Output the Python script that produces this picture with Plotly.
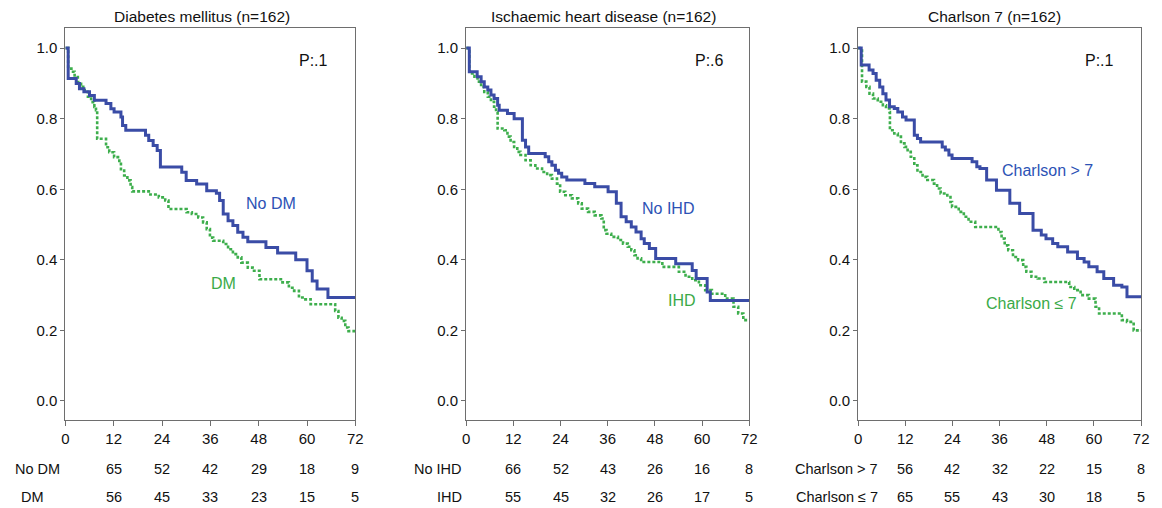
import plotly.graph_objects as go

# ---------------- data ----------------
months_ticks = [0, 12, 24, 36, 48, 60, 72]

# Panel 1: Diabetes mellitus
dm_no_t = [0, 0.7, 2.7, 3.5, 4.6, 6.0, 7.2, 10.1, 11.3, 12.1, 13.8, 14.2, 15.0, 19.9, 20.7, 21.8, 22.8, 23.6,
           28.9, 30.0, 32.6, 35.1, 37.5, 38.3, 39.2, 40.4, 41.6, 42.8, 44.1, 45.3, 49.8, 52.7, 57.2, 60.0,
           61.3, 62.5, 65.2, 72]
dm_no_s = [1.0, 0.914, 0.900, 0.885, 0.876, 0.866, 0.852, 0.843, 0.828, 0.819, 0.805, 0.781, 0.767, 0.753,
           0.738, 0.724, 0.710, 0.663, 0.648, 0.625, 0.615, 0.596, 0.589, 0.568, 0.530, 0.511, 0.497, 0.478,
           0.464, 0.451, 0.435, 0.419, 0.400, 0.369, 0.340, 0.317, 0.293, 0.293]
dm_yes_t = [0, 0.7, 1.5, 2.3, 3.1, 3.9, 4.8, 5.6, 6.4, 7.2, 7.6, 7.9, 10.1, 10.9, 12.1, 13.4, 13.8, 14.6,
            15.4, 16.2, 16.6, 21.1, 23.2, 24.8, 25.6, 30.1, 31.4, 33.0, 34.2, 35.1, 35.9, 36.7, 39.2, 40.4,
            41.6, 42.8, 43.7, 45.3, 46.5, 48.2, 53.9, 55.5, 56.8, 58.0, 59.6, 60.9, 67.0, 67.8, 68.6, 69.5,
            70.3, 72]
dm_yes_s = [1.0, 0.942, 0.933, 0.918, 0.904, 0.890, 0.876, 0.862, 0.847, 0.833, 0.824, 0.743, 0.719, 0.705,
            0.691, 0.672, 0.653, 0.639, 0.625, 0.606, 0.594, 0.585, 0.577, 0.568, 0.544, 0.535, 0.530, 0.520,
            0.506, 0.487, 0.463, 0.454, 0.445, 0.430, 0.416, 0.407, 0.392, 0.378, 0.369, 0.345, 0.336, 0.321,
            0.312, 0.293, 0.288, 0.274, 0.255, 0.236, 0.227, 0.208, 0.198, 0.198]

# Panel 2: Ischaemic heart disease
ihd_no_t = [0, 0.8, 2.8, 3.8, 4.6, 5.5, 6.3, 7.1, 8.0, 8.4, 10.5, 12.2, 14.3, 15.1, 15.9, 20.1, 21.0, 21.8,
            22.7, 23.5, 24.3, 25.6, 30.2, 32.7, 36.1, 38.2, 39.4, 40.7, 42.0, 43.2, 44.5, 45.3, 46.6, 48.2,
            53.3, 57.5, 58.5, 61.3, 62.1, 72]
ihd_no_s = [1.0, 0.933, 0.919, 0.905, 0.890, 0.881, 0.867, 0.857, 0.838, 0.824, 0.815, 0.800, 0.739, 0.720,
            0.701, 0.692, 0.678, 0.668, 0.654, 0.645, 0.635, 0.626, 0.616, 0.607, 0.593, 0.560, 0.522, 0.508,
            0.493, 0.479, 0.460, 0.446, 0.432, 0.404, 0.389, 0.370, 0.347, 0.309, 0.285, 0.285]
ihd_yes_t = [0, 0.8, 2.1, 2.9, 3.8, 4.6, 5.5, 6.3, 7.1, 7.6, 8.0, 9.7, 10.5, 11.3, 12.2, 13.0, 13.8, 15.1,
             16.4, 17.6, 19.3, 20.6, 21.8, 23.1, 23.9, 25.2, 26.9, 28.5, 29.4, 31.0, 32.7, 34.4, 35.0, 35.7,
             36.9, 38.6, 39.9, 41.1, 42.0, 42.8, 43.6, 44.5, 49.9, 54.1, 55.8, 57.5, 59.2, 60.8, 62.5, 65.9,
             68.0, 69.2, 70.5, 72]
ihd_yes_s = [1.0, 0.928, 0.919, 0.905, 0.890, 0.876, 0.862, 0.848, 0.834, 0.819, 0.772, 0.767, 0.749, 0.734,
             0.720, 0.706, 0.697, 0.682, 0.668, 0.659, 0.649, 0.640, 0.630, 0.616, 0.593, 0.583, 0.574, 0.560,
             0.545, 0.536, 0.526, 0.517, 0.484, 0.474, 0.465, 0.456, 0.446, 0.437, 0.427, 0.413, 0.404, 0.394,
             0.380, 0.366, 0.352, 0.342, 0.328, 0.314, 0.304, 0.290, 0.267, 0.248, 0.229, 0.229]

# Panel 3: Charlson 7
ch_hi_t = [0, 0.8, 2.8, 3.8, 4.6, 5.5, 6.3, 7.1, 8.0, 9.2, 10.1, 11.3, 12.2, 14.3, 15.1, 15.9, 21.4, 22.2,
           23.1, 23.9, 29.0, 30.2, 31.0, 32.7, 35.2, 38.6, 41.1, 44.5, 46.6, 47.8, 49.5, 50.8, 53.3, 55.8,
           57.5, 58.7, 60.8, 62.5, 65.0, 67.1, 68.4, 72]
ch_hi_s = [1.0, 0.952, 0.938, 0.928, 0.909, 0.890, 0.871, 0.853, 0.834, 0.829, 0.819, 0.805, 0.796, 0.753,
           0.744, 0.734, 0.720, 0.711, 0.697, 0.687, 0.678, 0.664, 0.659, 0.626, 0.597, 0.560, 0.531, 0.484,
           0.470, 0.460, 0.446, 0.437, 0.422, 0.404, 0.394, 0.380, 0.366, 0.347, 0.328, 0.323, 0.295, 0.295]
ch_lo_t = [0, 1.0, 2.1, 2.9, 3.8, 5.0, 6.3, 7.1, 8.0, 8.1, 9.2, 10.1, 10.9, 11.8, 12.6, 13.4, 14.3, 15.1,
           16.4, 17.6, 19.3, 20.1, 21.0, 22.7, 23.5, 23.9, 25.6, 26.9, 28.1, 29.8, 35.7, 36.5, 37.3, 38.2,
           39.4, 40.7, 42.0, 42.8, 44.1, 45.7, 47.4, 53.7, 55.0, 56.6, 58.7, 60.4, 61.3, 67.1, 68.4, 70.1, 72]
ch_lo_s = [1.0, 0.905, 0.890, 0.871, 0.857, 0.848, 0.838, 0.829, 0.819, 0.767, 0.758, 0.749, 0.730, 0.720,
           0.706, 0.692, 0.668, 0.649, 0.635, 0.626, 0.616, 0.602, 0.588, 0.578, 0.564, 0.550, 0.536, 0.522,
           0.508, 0.493, 0.479, 0.460, 0.441, 0.427, 0.408, 0.399, 0.380, 0.366, 0.352, 0.347, 0.337, 0.323,
           0.314, 0.300, 0.290, 0.267, 0.248, 0.229, 0.224, 0.200, 0.200]

titles = ["Diabetes mellitus (n=162)", "Ischaemic heart disease (n=162)", "Charlson 7 (n=162)"]
p_values = ["P:.1", "P:.6", "P:.1"]
row_labels = [["No DM", "DM"], ["No IHD", "IHD"], ["Charlson > 7", "Charlson \u2264 7"]]
risk_top = [[65, 52, 42, 29, 18, 9], [66, 52, 43, 26, 16, 8], [56, 42, 32, 22, 15, 8]]
risk_bot = [[56, 45, 33, 23, 15, 5], [55, 45, 32, 26, 17, 5], [65, 55, 43, 30, 18, 5]]

curves = [
    (dm_no_t, dm_no_s, dm_yes_t, dm_yes_s),
    (ihd_no_t, ihd_no_s, ihd_yes_t, ihd_yes_s),
    (ch_hi_t, ch_hi_s, ch_lo_t, ch_lo_s),
]

# ---------------- layout geometry ----------------
W, H = 1162, 508
BLUE = "#3A4CA6"
GREEN = "#3DAE4C"
BLUE_TXT = "#2C52B5"
GREEN_TXT = "#3AAA48"
FONT = "Liberation Sans, Arial, sans-serif"

x_px = [(62, 355), (467, 753), (863, 1149)]
y_top, y_bot = 28, 420


def py(v):
    return (H - v) / H


fig = go.Figure()
for i, (bt, bs, gt, gs) in enumerate(curves):
    xa = "x" if i == 0 else f"x{i+1}"
    ya = "y" if i == 0 else f"y{i+1}"
    fig.add_trace(go.Scatter(x=gt, y=gs, mode="lines", line=dict(color=GREEN, width=2.6, dash="3px,2px", shape="hv"),
                             xaxis=xa, yaxis=ya, showlegend=False, hoverinfo="skip"))
    fig.add_trace(go.Scatter(x=bt, y=bs, mode="lines", line=dict(color=BLUE, width=3, shape="hv"),
                             xaxis=xa, yaxis=ya, showlegend=False, hoverinfo="skip"))

axis_common = dict(showline=True, linecolor="#6e6e6e", linewidth=1.2, mirror=True, ticks="outside",
                   tickcolor="#6e6e6e", showgrid=False, zeroline=False,
                   tickfont=dict(family=FONT, size=15, color="#111"))

layout = dict(width=W, height=H, margin=dict(l=0, r=0, t=0, b=0), plot_bgcolor="white",
              paper_bgcolor="white", font=dict(family=FONT, color="#111"))
for i in range(3):
    xk = "xaxis" if i == 0 else f"xaxis{i+1}"
    yk = "yaxis" if i == 0 else f"yaxis{i+1}"
    xa_anchor = "y" if i == 0 else f"y{i+1}"
    ya_anchor = "x" if i == 0 else f"x{i+1}"
    layout[xk] = dict(axis_common, domain=[x_px[i][0] / W, x_px[i][1] / W], range=[0, 72],
                      tickvals=months_ticks, ticklen=5, anchor=xa_anchor)
    layout[yk] = dict(axis_common, domain=[py(y_bot), py(y_top)], range=[-0.054, 1.057],
                      tickvals=[0, 0.2, 0.4, 0.6, 0.8, 1.0], tickformat=".1f", ticklen=4, anchor=ya_anchor)
fig.update_layout(**layout)

ann = []
title_x = [200, 606, 1001]
p_x = [313, 713, 1107]
ROW_Y = [469, 497]
for i in range(3):
    xa = "x" if i == 0 else f"x{i+1}"
    ann.append(dict(text=titles[i], x=title_x[i] / W, y=py(16), xref="paper", yref="paper",
                    xanchor="center", yanchor="middle", showarrow=False, font=dict(size=15.5, color="#111")))
    ann.append(dict(text=p_values[i], x=p_x[i] / W, y=py(60), xref="paper", yref="paper",
                    xanchor="center", yanchor="middle", showarrow=False, font=dict(size=16, color="#111")))
    for j, m in enumerate(months_ticks[1:]):
        ann.append(dict(text=str(risk_top[i][j]), x=m, y=py(ROW_Y[0]), xref=xa, yref="paper",
                        xanchor="center", yanchor="middle", showarrow=False, font=dict(size=14.5, color="#111")))
        ann.append(dict(text=str(risk_bot[i][j]), x=m, y=py(ROW_Y[1]), xref=xa, yref="paper",
                        xanchor="center", yanchor="middle", showarrow=False, font=dict(size=14.5, color="#111")))

# row labels
row_pos = [[(34, "center"), (29, "center")], [(465, "right"), (465, "right")], [(885, "right"), (885, "right")]]
for i in range(3):
    for r, yy in enumerate(ROW_Y):
        xp, al = row_pos[i][r]
        ann.append(dict(text=row_labels[i][r], x=xp / W, y=py(yy), xref="paper", yref="paper",
                        xanchor=al, yanchor="middle", showarrow=False, font=dict(size=14.5, color="#111")))

# curve labels
curve_lab = [
    [("No DM", 270, 204, BLUE_TXT), ("DM", 222, 283, GREEN_TXT)],
    [("No IHD", 671, 208, BLUE_TXT), ("IHD", 685, 300, GREEN_TXT)],
    [("Charlson > 7", 1054, 171, BLUE_TXT), ("Charlson \u2264 7", 1038, 303, GREEN_TXT)],
]
for grp in curve_lab:
    for txt, xx, yy, col in grp:
        ann.append(dict(text=txt, x=xx / W, y=py(yy), xref="paper", yref="paper", showarrow=False,
                        xanchor="center", yanchor="middle", font=dict(size=16, color=col)))

fig.update_layout(annotations=ann)
fig.write_html("out.html", config={"displayModeBar": False},
               post_script="document.body.style.margin='0px';")
